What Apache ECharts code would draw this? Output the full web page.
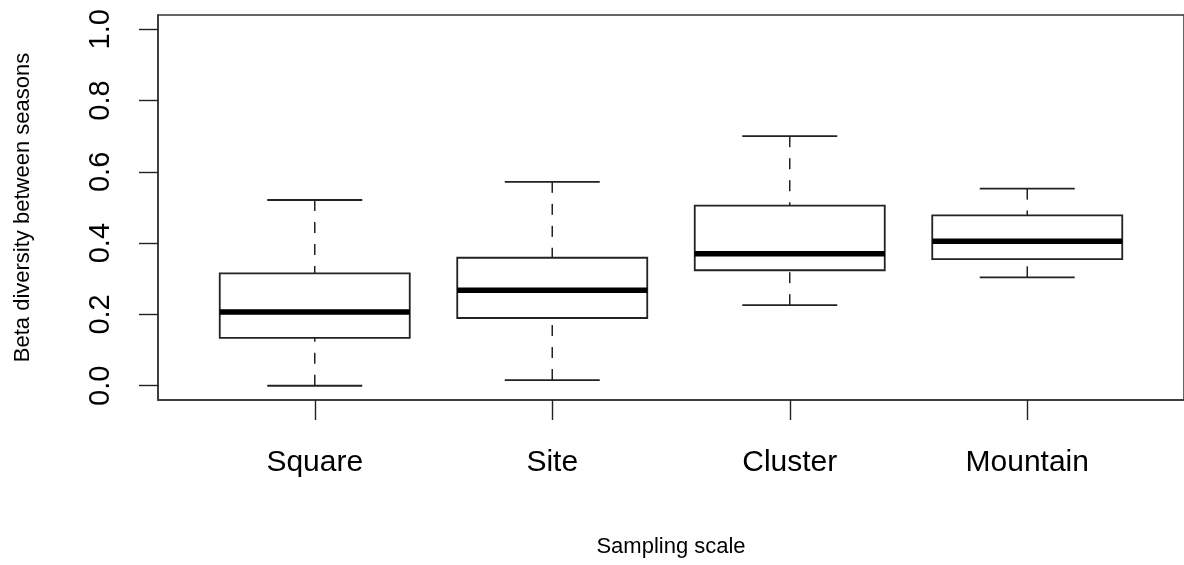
<!DOCTYPE html>
<html>
<head>
<meta charset="utf-8">
<title>Beta diversity between seasons by sampling scale</title>
<script src="https://cdn.jsdelivr.net/npm/echarts@6/dist/echarts.min.js"></script>
<style>
  html, body { margin: 0; padding: 0; background: #ffffff; }
  #chart { width: 1184px; height: 565px; }
</style>
</head>
<body>
<div id="chart"></div>
<script>
// Five-number summaries per sampling scale
const categories = ['Square', 'Site', 'Cluster', 'Mountain'];
const lowerWhisker = [0.000, 0.016, 0.226, 0.304];
const lowerQuartile = [0.134, 0.190, 0.324, 0.355];
const medians = [0.207, 0.268, 0.370, 0.405];
const upperQuartile = [0.315, 0.359, 0.505, 0.478];
const upperWhisker = [0.521, 0.572, 0.700, 0.553];
const yTicks = [0.0, 0.2, 0.4, 0.6, 0.8, 1.0];

const FONT = '"Liberation Sans", Arial, Helvetica, sans-serif';
const INK = '#222222';

const positions = categories.map((_, i) => i + 1);
const boxData = categories.map((_, i) => [
  positions[i], lowerWhisker[i], lowerQuartile[i], medians[i], upperQuartile[i], upperWhisker[i]
]);

// One box-and-whisker glyph per category, placed through the axis scales
function renderBox(params, api) {
  const x = api.value(0);
  const lo = api.coord([x, api.value(1)]);
  const q1 = api.coord([x, api.value(2)]);
  const md = api.coord([x, api.value(3)]);
  const q3 = api.coord([x, api.value(4)]);
  const hi = api.coord([x, api.value(5)]);
  const boxW = api.size([0.8, 0])[0];
  const capW = api.size([0.4, 0])[0];
  const cx = md[0];
  const dash = { stroke: INK, lineWidth: 1.5, lineDash: [11, 11] };
  const solid = { stroke: INK, lineWidth: 1.8 };
  return {
    type: 'group',
    children: [
      { type: 'line', shape: { x1: cx, y1: hi[1], x2: cx, y2: q3[1] }, style: dash },
      { type: 'line', shape: { x1: cx, y1: lo[1], x2: cx, y2: q1[1] }, style: dash },
      { type: 'line', shape: { x1: cx - capW / 2, y1: hi[1], x2: cx + capW / 2, y2: hi[1] }, style: solid },
      { type: 'line', shape: { x1: cx - capW / 2, y1: lo[1], x2: cx + capW / 2, y2: lo[1] }, style: solid },
      { type: 'rect', shape: { x: cx - boxW / 2, y: q3[1], width: boxW, height: q1[1] - q3[1] },
        style: { fill: '#ffffff', stroke: INK, lineWidth: 1.8 } },
      { type: 'line', shape: { x1: cx - boxW / 2, y1: md[1], x2: cx + boxW / 2, y2: md[1] },
        style: { stroke: '#000000', lineWidth: 5.5 } }
    ]
  };
}

const chart = echarts.init(document.getElementById('chart'), null, { renderer: 'canvas' });
chart.setOption({
  animation: false,
  backgroundColor: '#ffffff',
  grid: {
    left: 158, top: 15, width: 1030, bottom: 165,
    show: true, borderColor: '#333333', borderWidth: 1.5, backgroundColor: 'transparent'
  },
  xAxis: {
    type: 'value',
    min: 0.34, max: 4.66,
    name: 'Sampling scale',
    nameLocation: 'middle',
    nameGap: 136,
    nameTextStyle: { fontFamily: FONT, fontSize: 22, color: '#000000' },
    axisLine: { show: true, onZero: false, lineStyle: { color: '#333333', width: 1.5 } },
    axisTick: { show: true, length: 20, customValues: positions, lineStyle: { color: INK, width: 1.4 } },
    axisLabel: {
      customValues: positions,
      formatter: v => categories[Math.round(v) - 1] || '',
      margin: 48, fontFamily: FONT, fontSize: 30, color: '#000000'
    },
    splitLine: { show: false }
  },
  yAxis: {
    type: 'value',
    min: -0.04, max: 1.04,
    name: 'Beta diversity between seasons',
    nameLocation: 'middle',
    nameGap: 124,
    nameTextStyle: { fontFamily: FONT, fontSize: 22, color: '#000000' },
    axisLine: { show: true, onZero: false, lineStyle: { color: '#333333', width: 1.5 } },
    axisTick: { show: true, length: 19, customValues: yTicks, lineStyle: { color: INK, width: 1.4 } },
    axisLabel: {
      customValues: yTicks,
      rotate: 90,
      formatter: v => v.toFixed(1),
      margin: 43, fontFamily: FONT, fontSize: 29, color: '#000000'
    },
    splitLine: { show: false }
  },
  series: [{
    type: 'custom',
    renderItem: renderBox,
    encode: { x: 0, y: [1, 2, 3, 4, 5] },
    data: boxData,
    clip: false
  }]
});
</script>
</body>
</html>
